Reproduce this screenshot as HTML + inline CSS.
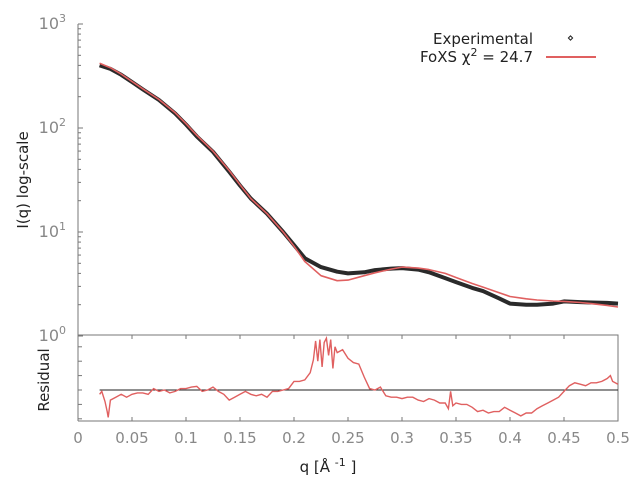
<!DOCTYPE html>
<html><head><meta charset="utf-8"><style>
html,body{margin:0;padding:0;background:#fff;width:640px;height:480px;overflow:hidden}
svg{display:block;font-family:"DejaVu Sans","Liberation Sans",sans-serif}
</style></head><body>
<svg id="chart" width="640" height="480" viewBox="0 0 640 480" xmlns="http://www.w3.org/2000/svg">
<g id="axes"></g>
<g id="series"></g>
<text x="0" y="0" transform="translate(28,180) rotate(-90)" text-anchor="middle" font-size="15" fill="#222">I(q) log-scale</text>
<text x="0" y="0" transform="translate(49,380) rotate(-90)" text-anchor="middle" font-size="15" fill="#222">Residual</text>
<text x="328" y="472" text-anchor="middle" font-size="15" fill="#222">q [Å <tspan font-size="11" dy="-6">-1</tspan><tspan dy="6"> ]</tspan></text>
<g>
<text x="533" y="44" text-anchor="end" font-size="15" fill="#222">Experimental</text>
<text x="533" y="62" text-anchor="end" font-size="15" fill="#222">FoXS χ<tspan font-size="11" dy="-6">2</tspan><tspan dy="6"> = 24.7</tspan></text>
<rect x="569" y="36.5" width="3" height="3" transform="rotate(45 570.5 38)" fill="none" stroke="#222" stroke-width="1"/>
<line x1="546" y1="57" x2="596" y2="57" stroke="#e06060" stroke-width="2"/>
</g>
</svg>
<script>
const qVals=[0.02,0.03,0.04,0.05,0.06,0.075,0.09,0.1,0.11,0.125,0.14,0.15,0.16,0.175,0.19,0.2,0.21,0.225,0.24,0.25,0.265,0.275,0.29,0.3,0.315,0.325,0.34,0.35,0.365,0.375,0.39,0.4,0.415,0.425,0.44,0.45,0.465,0.475,0.49,0.5];
const expI=[400,370,325,277,235,186,138,108,83,59,38,28,21,15,10,7.5,5.6,4.6,4.15,4.0,4.1,4.3,4.45,4.5,4.35,4.1,3.6,3.3,2.9,2.7,2.3,2.05,2.0,2.0,2.05,2.15,2.12,2.1,2.08,2.05];
const fitI=[420,380,330,280,238,188,140,110,85,60,39,28.5,21,15,10,7.3,5.2,3.8,3.4,3.45,3.8,4.05,4.4,4.6,4.5,4.35,4.0,3.65,3.2,2.95,2.6,2.4,2.28,2.22,2.17,2.15,2.1,2.05,1.97,1.9];
const resQ=[0.02,0.022,0.025,0.027,0.028,0.03,0.035,0.04,0.045,0.05,0.055,0.06,0.065,0.07,0.075,0.08,0.085,0.09,0.095,0.1,0.105,0.11,0.115,0.12,0.125,0.13,0.135,0.14,0.145,0.15,0.155,0.16,0.165,0.17,0.175,0.18,0.185,0.19,0.195,0.2,0.205,0.21,0.215,0.218,0.22,0.222,0.224,0.226,0.228,0.23,0.232,0.234,0.236,0.238,0.24,0.245,0.25,0.255,0.26,0.265,0.27,0.275,0.28,0.285,0.29,0.295,0.3,0.305,0.31,0.315,0.32,0.325,0.33,0.335,0.34,0.343,0.345,0.347,0.35,0.355,0.36,0.365,0.37,0.375,0.38,0.385,0.39,0.395,0.4,0.405,0.41,0.415,0.42,0.425,0.43,0.435,0.44,0.445,0.45,0.455,0.46,0.465,0.47,0.475,0.48,0.485,0.49,0.493,0.495,0.5];
const resV=[-0.3,-0.1,-0.8,-1.5,-1.9,-0.7,-0.5,-0.3,-0.5,-0.3,-0.2,-0.2,-0.3,0.1,-0.1,0,-0.2,-0.1,0.1,0.1,0.2,0.25,-0.1,0,0.2,-0.1,-0.3,-0.7,-0.5,-0.3,-0.1,-0.3,-0.4,-0.3,-0.5,-0.1,-0.1,0,0.1,0.6,0.6,0.7,1.2,2.1,3.4,2.0,3.5,1.6,3.3,3.6,2.4,3.5,1.5,3.0,2.6,2.8,2.2,1.9,1.8,0.9,0.1,0,0.2,-0.4,-0.5,-0.5,-0.6,-0.5,-0.5,-0.7,-0.8,-0.6,-0.7,-0.9,-0.9,-1.3,-0.1,-1.1,-0.9,-1.0,-1.0,-1.2,-1.5,-1.4,-1.6,-1.5,-1.5,-1.2,-1.4,-1.6,-1.8,-1.6,-1.6,-1.3,-1.1,-0.9,-0.7,-0.5,-0.1,0.3,0.5,0.4,0.3,0.5,0.5,0.6,0.8,1.0,0.6,0.4];
const xTicks=[0,0.05,0.1,0.15,0.2,0.25,0.3,0.35,0.4,0.45,0.5];
const xTickLabels=["0","0.05","0.1","0.15","0.2","0.25","0.3","0.35","0.4","0.45","0.5"];
const yDecades=[0,1,2,3];
const resTicks=[-2,-1,0,1,2,3];

const X0=78,X1=618,YT=24,DEC=104,RZ=390,RU=14.4,RB=421,RT=335;
const NS='http://www.w3.org/2000/svg';
function xS(q){return X0+(q-0)/(0.5-0)*(X1-X0);}
function yS(v){return YT+(3-Math.log10(v))*DEC;}
function rS(v){return RZ-v*RU;}
const axes=document.getElementById('axes'),ser=document.getElementById('series');
function mk(tag,attrs,parent){const e=document.createElementNS(NS,tag);for(const k in attrs)e.setAttribute(k,attrs[k]);parent.appendChild(e);return e;}
const G='#777';
// main left axis
let e=mk('line',{x1:X0,y1:YT,x2:X0,y2:RB,stroke:G,'stroke-width':1},axes);


yDecades.forEach(d=>{
  const y=yS(Math.pow(10,d));
  let t=mk('line',{x1:X0,y1:y,x2:X0+5,y2:y,stroke:G},axes);
  
  
  let l=mk('text',{x:X0-12,y:y+5,'text-anchor':'end','font-size':16,fill:'#888'},axes);
  
  
  l.textContent='10';
  const s=mk('tspan',{'font-size':11,dy:-7},l);s.textContent=String(d);
  if(d<3){for(let m=2;m<10;m++){const ym=yS(m*Math.pow(10,d));
    let mt=mk('line',{x1:X0,y1:ym,x2:X0+3,y2:ym,stroke:G},axes);
    
    }}
});
// residual panel box
e=mk('path',{d:`M${X0},${RT}H${X1}V${RB}H${X0}`,fill:'none',stroke:G},axes);


resTicks.forEach(v=>{const y=rS(v);if(y<RT+2||y>RB-2)return;
  let t=mk('line',{x1:X0,y1:y,x2:X0+4,y2:y,stroke:G},axes);
  
  });
xTicks.forEach((q,i)=>{const x=xS(q);
  let t=mk('line',{x1:x,y1:RB,x2:x,y2:RB-4,stroke:G},axes);
  
  
  let t2=mk('line',{x1:x,y1:RT,x2:x,y2:RT+4,stroke:G},axes);
  
  
  let l=mk('text',{x:x,y:443,'text-anchor':'middle','font-size':15,fill:'#888'},axes);
  
  
  l.textContent=xTickLabels[i];});
// experimental
const expPts=qVals.map((q,i)=>xS(q).toFixed(1)+','+yS(expI[i]).toFixed(1)).join(' ');
e=mk('polyline',{points:expPts,fill:'none',stroke:'#2a2a2a','stroke-width':4,'stroke-linejoin':'round'},ser);


const fitPts=qVals.map((q,i)=>xS(q).toFixed(1)+','+yS(fitI[i]).toFixed(1)).join(' ');
e=mk('polyline',{points:fitPts,fill:'none',stroke:'#e06060','stroke-width':1.6,'stroke-linejoin':'round'},ser);


// residual
e=mk('line',{x1:xS(0.02),y1:RZ,x2:xS(0.5),y2:RZ,stroke:'#222','stroke-width':1},ser);


const resPts=resQ.map((q,i)=>xS(q).toFixed(1)+','+rS(resV[i]).toFixed(1)).join(' ');
e=mk('polyline',{points:resPts,fill:'none',stroke:'#e06060','stroke-width':1.4},ser);


</script>
</body></html>
